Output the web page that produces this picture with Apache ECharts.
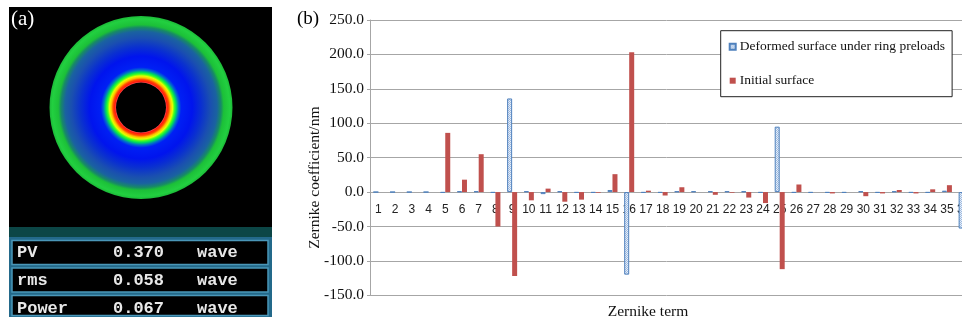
<!DOCTYPE html>
<html>
<head>
<meta charset="utf-8">
<script src="https://cdn.jsdelivr.net/npm/echarts@6/dist/echarts.min.js"></script>
<style>
  html, body { margin: 0; padding: 0; background: #ffffff; }
  #chart { width: 962px; height: 324px; }
</style>
</head>
<body>
<div id="chart"></div>
<script>
// Zernike terms (category axis)
const terms = ['1','2','3','4','5','6','7','8','9','10','11','12','13','14','15','16','17','18',
               '19','20','21','22','23','24','25','26','27','28','29','30','31','32','33','34','35','36'];

// Zernike coefficients in nm
const deformed = [0, 0, 0, 0, -1, 1, 1, -1, 136, 1, -3, 1, -1, -1, 3, -120, -1, -1,
                  1, 1, 1, 1, 1, -1, 95, -1, -1, -1, -1, 1, -1, 1, -1, -1, 2, -53];
const initial  = [0, 0, 0, 0, 86, 18, 55, -50, -122, -12, 5, -14, -11, -1, 26, 203, 2, -5,
                  7, 0, -4, -1, -8, -16, -112, 11, 0, -2, 0, -6, -2, 3, -2, 4, 10, 17];

const seriesNames = ['Deformed surface under ring preloads', 'Initial surface'];

// Value axis ticks
const yMin = -150, yMax = 250, yStep = 50;

// Surface statistics table
const statNames  = ['PV', 'rms', 'Power'];
const statValues = ['0.370', '0.058', '0.067'];
const statUnit   = 'wave';

// light blue checkered fill for the deformed-surface bars
function checkerPattern() {
  const c = document.createElement('canvas');
  c.width = 2; c.height = 2;
  const g = c.getContext('2d');
  g.fillStyle = '#e6eef8'; g.fillRect(0, 0, 2, 2);
  g.fillStyle = '#9fbbe0'; g.fillRect(0, 0, 1, 1); g.fillRect(1, 1, 1, 1);
  return { image: c, repeat: 'repeat' };
}

// ---- panel (a): surface map and statistics ----
const ringFill = new echarts.graphic.RadialGradient(0.5, 0.5, 0.5, [
  { offset: 0.270, color: '#ff5a5a' },
  { offset: 0.285, color: '#ff1a10' },
  { offset: 0.305, color: '#ff4a00' },
  { offset: 0.325, color: '#ffc000' },
  { offset: 0.345, color: '#e4ff00' },
  { offset: 0.365, color: '#40ff20' },
  { offset: 0.385, color: '#00d860' },
  { offset: 0.410, color: '#0070c8' },
  { offset: 0.440, color: '#0020f4' },
  { offset: 0.560, color: '#0014ee' },
  { offset: 0.660, color: '#0a30d0' },
  { offset: 0.760, color: '#1a4fb0' },
  { offset: 0.830, color: '#1a62a0' },
  { offset: 0.875, color: '#178a66' },
  { offset: 0.905, color: '#1cc038' },
  { offset: 0.970, color: '#22d040' },
  { offset: 1.000, color: '#1cb838' }
]);

const rowTops = [240.5, 268, 295.5];
const rowHeights = [24, 24, 20];
const textCenters = [252.5, 281, 308.5];

const graphics = [
  { type: 'rect', shape: { x: 9, y: 7, width: 263, height: 220 }, style: { fill: '#000000' } },
  { type: 'ring', shape: { cx: 141, cy: 107.5, r: 91.5, r0: 25 }, style: { fill: ringFill } },
  { type: 'rect', shape: { x: 9, y: 227, width: 263, height: 10 }, style: { fill: '#0c4646' } },
  { type: 'rect', shape: { x: 9, y: 237, width: 263, height: 80 }, style: { fill: '#23698a' } },
  { type: 'text', left: 11, top: 9, style: { text: '(a)', fill: '#ffffff', font: '21px "Liberation Serif"' } },
  { type: 'text', left: 297, top: 10, style: { text: '(b)', fill: '#000000', font: '19px "Liberation Serif"' } }
];
statNames.forEach((name, i) => {
  graphics.push({ type: 'rect', shape: { x: 12, y: rowTops[i], width: 256, height: rowHeights[i] },
                  style: { fill: '#000000', stroke: '#4a96b8', lineWidth: 1.5 } });
  const font = 'bold 17px "Liberation Mono"';
  graphics.push({ type: 'text', x: 17, y: textCenters[i], style: { text: name, fill: '#e8e8e8', font, verticalAlign: 'middle' } });
  graphics.push({ type: 'text', x: 113, y: textCenters[i], style: { text: statValues[i], fill: '#e8e8e8', font, verticalAlign: 'middle' } });
  graphics.push({ type: 'text', x: 197, y: textCenters[i], style: { text: statUnit, fill: '#e8e8e8', font, verticalAlign: 'middle' } });
});

// ---- panel (b): coefficient bars ----
const gridGray = '#a6a6a6';
const serif = 'Liberation Serif';

// plot box; the category axis is lifted up to the zero line of the value axis
const plotTop = 20, plotBottom = 28.7, chartHeight = 324;
const plotHeight = chartHeight - plotTop - plotBottom;
const zeroLift = -plotHeight * (0 - yMin) / (yMax - yMin);

const chart = echarts.init(document.getElementById('chart'), null, { renderer: 'canvas' });
chart.setOption({
  animation: false,
  backgroundColor: '#ffffff',
  grid: { left: 370, top: plotTop, bottom: plotBottom, right: -10, containLabel: false, outerBoundsMode: 'none' },
  legend: {
    orient: 'vertical', left: 720.7, top: 30.7,
    backgroundColor: '#ffffff', borderColor: '#222222', borderWidth: 1, borderRadius: 0,
    padding: [9, 7, 9, 8], itemWidth: 6, itemHeight: 6, itemGap: 20, icon: 'rect',
    selectedMode: false,
    textStyle: { fontFamily: serif, fontSize: 13.5, color: '#111111', padding: [0, 0, 0, -1] },
    data: seriesNames
  },
  xAxis: {
    type: 'category', data: terms, position: 'bottom', offset: zeroLift,
    axisLine: { onZero: false, lineStyle: { color: gridGray } },
    axisTick: { length: 5, lineStyle: { color: gridGray } },
    axisLabel: { interval: 0, fontFamily: 'Liberation Sans', fontSize: 12, color: '#222222', margin: 12 },
    name: 'Zernike term', nameLocation: 'middle', nameGap: 112, nameMoveOverlap: false,
    nameTextStyle: { fontFamily: serif, fontSize: 15.5, color: '#111111', padding: [0, 46, 0, 0] }
  },
  yAxis: {
    type: 'value', min: yMin, max: yMax, interval: yStep,
    axisLine: { show: true, lineStyle: { color: gridGray } },
    axisTick: { show: true, length: 3, lineStyle: { color: gridGray } },
    splitLine: { lineStyle: { color: gridGray, width: 1 } },
    axisLabel: { fontFamily: serif, fontSize: 15.5, color: '#111111', margin: 6,
                 formatter: v => v.toFixed(1) },
    name: 'Zernike coefficient/nm', nameLocation: 'middle', nameGap: 47, nameMoveOverlap: false,
    nameTextStyle: { fontFamily: serif, fontSize: 15.5, color: '#111111', padding: [0, 40, 0, 0] }
  },
  series: [
    { name: seriesNames[0], type: 'bar', data: deformed, barWidth: 5, barGap: '0%',
      itemStyle: { color: checkerPattern(), borderColor: '#4f81bd', borderWidth: 1 } },
    { name: seriesNames[1], type: 'bar', data: initial, barWidth: 5, barGap: '0%',
      itemStyle: { color: '#c0504d' } }
  ],
  graphic: graphics
});
</script>
</body>
</html>
